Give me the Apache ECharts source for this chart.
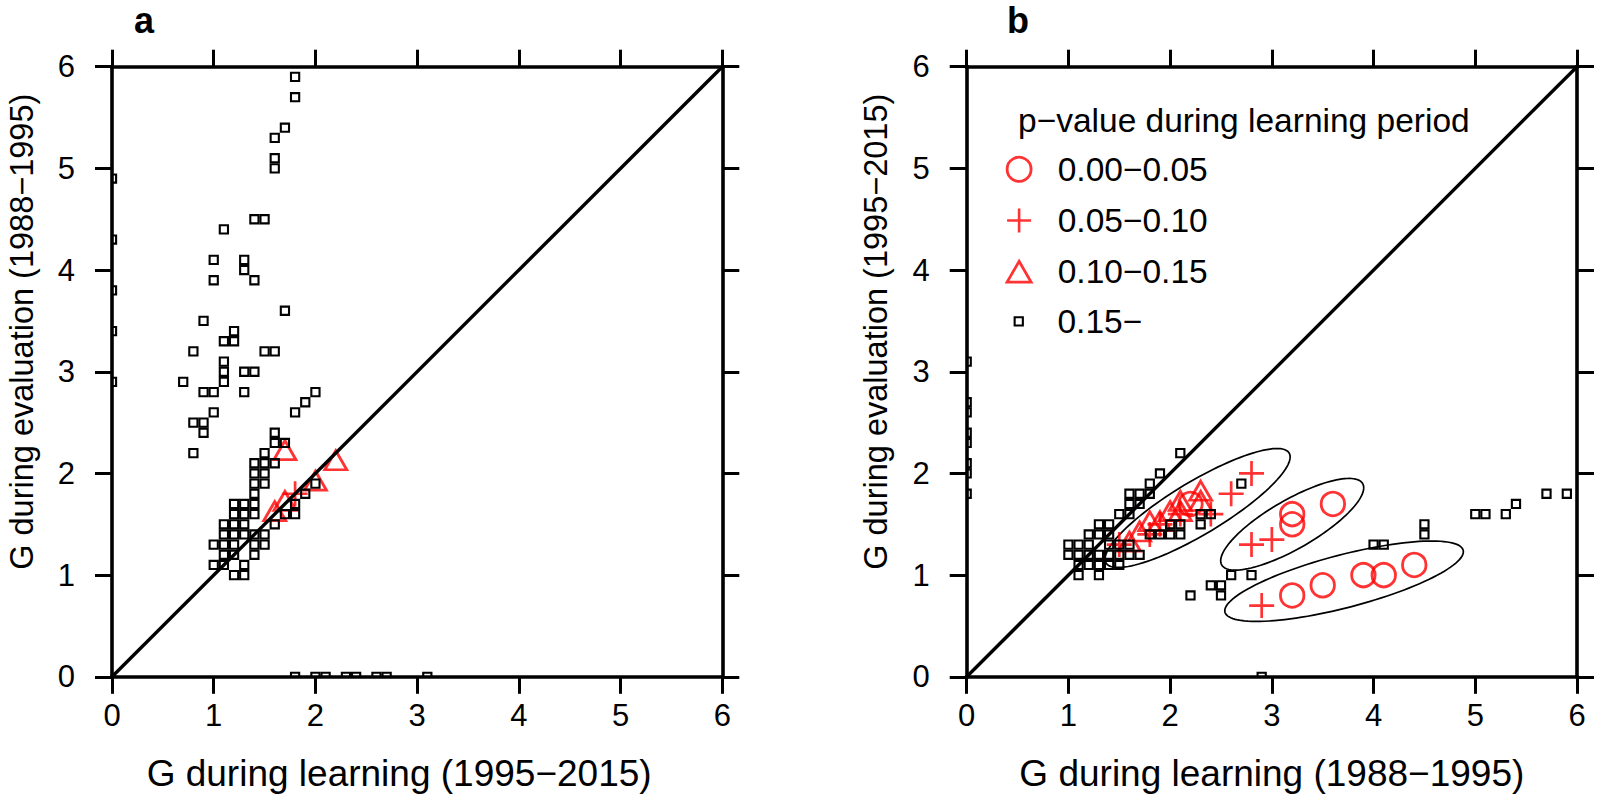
<!DOCTYPE html>
<html><head><meta charset="utf-8">
<script src="https://cdn.jsdelivr.net/npm/echarts@6/dist/echarts.min.js"></script>
<style>html,body{margin:0;padding:0;background:#fff}#c{width:1598px;height:799px}</style>
</head><body><div id="c"></div>
<script>
// ---------------- data ----------------
const axisTicks = [0, 1, 2, 3, 4, 5, 6];
const diagonal = [[0, 0], [6, 6]];

// panel a
const aSquares = [
 [0,4.9],[0,4.3],[0,3.8],[0,3.4],[0,2.9],
 [1.8,0],[2.0,0],[2.1,0],[2.3,0],[2.4,0],[2.6,0],[2.7,0],[3.1,0],
 [1.8,5.9],[1.8,5.7],[1.7,5.4],[1.6,5.3],[1.6,5.1],[1.6,5.0],[1.4,4.5],[1.5,4.5],[1.1,4.4],[1.0,4.1],[1.3,4.1],[1.3,4.0],[1.0,3.9],[1.4,3.9],[1.7,3.6],[0.9,3.5],[1.2,3.4],[1.1,3.3],[1.2,3.3],[0.8,3.2],[1.5,3.2],[1.6,3.2],[1.1,3.1],[1.1,3.0],[1.3,3.0],[1.4,3.0],[0.7,2.9],[1.1,2.9],[0.9,2.8],[1.0,2.8],[1.3,2.8],[2.0,2.8],[1.9,2.7],[1.8,2.6],[1.0,2.6],[0.8,2.5],[0.9,2.5],[0.9,2.4],[0.8,2.2],
 [1.6,2.4],[1.6,2.3],[1.7,2.3],[1.5,2.2],[1.4,2.1],[1.5,2.1],[1.6,2.1],[1.4,2.0],[1.5,2.0],[1.4,1.9],[1.5,1.9],[1.4,1.8],
 [1.2,1.7],[1.3,1.7],[1.4,1.7],[1.2,1.6],[1.3,1.6],[1.4,1.6],[1.1,1.5],[1.2,1.5],[1.3,1.5],[1.1,1.4],[1.2,1.4],[1.3,1.4],[1.4,1.4],[1.5,1.4],[1.0,1.3],[1.1,1.3],[1.2,1.3],[1.4,1.3],[1.5,1.3],[1.1,1.2],[1.2,1.2],[1.4,1.2],[1.0,1.1],[1.1,1.1],[1.3,1.1],[1.2,1.0],[1.3,1.0],
 [1.6,1.5],[1.7,1.6],[1.8,1.6],[1.8,1.7],[1.9,1.8],[2.0,1.9]
];
const aTriangles = [[1.7,2.2],[2.2,2.1],[2.0,1.9],[1.7,1.7],[1.6,1.6]];
const aPluses = [[1.8,1.8]];
const aCircles = [];

// panel b
const bSquares = [
 [0,3.1],[0,2.7],[0,2.6],[0,2.4],[0,2.3],[0,2.1],[0,2.0],[0,1.8],
 [2.1,2.2],[1.9,2.0],[1.8,1.9],[1.6,1.8],[1.7,1.8],[1.8,1.8],[1.6,1.7],[1.7,1.7],[1.5,1.6],[1.6,1.6],[1.3,1.5],[1.4,1.5],[1.2,1.4],[1.3,1.4],[1.4,1.4],
 [1.0,1.3],[1.1,1.3],[1.2,1.3],[1.4,1.3],[1.5,1.3],[1.6,1.3],
 [1.0,1.2],[1.1,1.2],[1.2,1.2],[1.3,1.2],[1.4,1.2],[1.5,1.2],[1.6,1.2],[1.7,1.2],
 [1.1,1.1],[1.2,1.1],[1.3,1.1],[1.4,1.1],[1.5,1.1],
 [1.1,1.0],[1.3,1.0],
 [1.8,1.4],[1.9,1.4],[2.0,1.4],[2.1,1.4],[2.0,1.5],[2.1,1.5],[2.3,1.5],[2.3,1.6],[2.4,1.6],[2.7,1.9],
 [2.6,1.0],[2.8,1.0],[2.4,0.9],[2.5,0.9],[2.5,0.8],[2.2,0.8],[2.9,0],
 [4.0,1.3],[4.1,1.3],[4.5,1.4],[4.5,1.5],[5.0,1.6],[5.1,1.6],[5.3,1.6],[5.4,1.7],[5.7,1.8],[5.9,1.8]
];
const bCircles = [[2.2,1.7],[3.2,1.6],[3.2,1.5],[3.6,1.7],[3.2,0.8],[3.5,0.9],[3.9,1.0],[4.1,1.0],[4.4,1.1]];
const bPluses = [[2.8,2.0],[2.6,1.8],[2.4,1.6],[2.8,1.3],[3.0,1.35],[2.9,0.7],[1.5,1.3],[1.8,1.4],[1.9,1.5],[2.1,1.6]];
const bTriangles = [[1.6,1.3],[1.7,1.4],[1.8,1.5],[1.9,1.5],[2.0,1.6],[2.1,1.6],[2.1,1.7],[2.3,1.7],[2.3,1.8]];

// ellipses: [centre x, centre y, semi-major, semi-minor, angle deg]
const bEllipses = [[2.27,1.66,1.05,0.26,31],[3.20,1.50,0.80,0.24,30],[3.71,0.94,1.21,0.26,14.6]];
const bEllipseLabels = [[3.35,2.35,'C'],[4.14,2.04,'B'],[5.04,1.13,'A']];

const legendTitle = 'p\u2212value during learning period';
const legendNames = ['0.00\u22120.05','0.05\u22120.10','0.10\u22120.15','0.15\u2212'];
const axisNames = {
  aX: 'G during learning (1995\u22122015)', aY: 'G during evaluation (1988\u22121995)',
  bX: 'G during learning (1988\u22121995)', bY: 'G during evaluation (1995\u22122015)'
};
const panelLabels = ['a', 'b'];

// ---------------- style ----------------
const FONT = '"Liberation Sans", Arial, Helvetica, sans-serif';
const RED = '#ff0000';
const PLUS = 'path://M-1.35,-12.5L1.35,-12.5L1.35,-1.35L12.5,-1.35L12.5,1.35L1.35,1.35L1.35,12.5L-1.35,12.5L-1.35,1.35L-12.5,1.35L-12.5,-1.35L-1.35,-1.35Z';
const TRI = 'path://M0,-10L11.55,10L-11.55,10Z';
const SQ = 8.2;
const LEG_FS = 33.5;

const circleStyle = {color: 'transparent', borderColor: RED, borderWidth: 2.8};
const plusStyle = {color: RED, borderWidth: 0};
const triStyle = {color: 'transparent', borderColor: RED, borderWidth: 2.8};
const sqStyle = {color: 'transparent', borderColor: '#000', borderWidth: 2.1};

function xAxis(grid, pos, name, shift) {
  const bottom = pos === 'bottom';
  return {
    type: 'value', gridIndex: grid, position: pos, min: 0, max: 6, interval: 1, z: 10,
    axisLine: {show: true, onZero: false, lineStyle: {color: '#000', width: 3.6, cap: 'square'}},
    axisTick: {show: true, inside: false, length: 17, lineStyle: {color: '#000', width: 3}},
    axisLabel: {show: bottom, color: '#000', fontSize: 31, fontFamily: FONT, margin: 23,
      formatter: v => axisTicks.indexOf(v) >= 0 ? String(v) : ''},
    splitLine: {show: false},
    name: bottom ? name : '', nameLocation: 'middle', nameGap: 78,
    nameTextStyle: {color: '#000', fontSize: 37, fontFamily: FONT, lineHeight: 37, padding: [0, shift || 0, 0, 0]}
  };
}
function yAxis(grid, pos, name) {
  const left = pos === 'left';
  return {
    type: 'value', gridIndex: grid, position: pos, min: 0, max: 6, interval: 1, z: 10,
    axisLine: {show: true, onZero: false, lineStyle: {color: '#000', width: 3.6, cap: 'square'}},
    axisTick: {show: true, inside: false, length: 17, lineStyle: {color: '#000', width: 3}},
    axisLabel: {show: left, color: '#000', fontSize: 31, fontFamily: FONT, margin: 37,
      formatter: v => axisTicks.indexOf(v) >= 0 ? String(v) : ''},
    splitLine: {show: false},
    name: left ? name : '', nameLocation: 'middle', nameGap: 74,
    nameTextStyle: {color: '#000', fontSize: 32.5, fontFamily: FONT, lineHeight: 33, padding: [0, 0, 0, 80]}
  };
}

function pts(name, data, xi, symbol, size, style, z, extra) {
  return Object.assign({
    type: 'scatter', name: name, xAxisIndex: xi, yAxisIndex: xi, data: data,
    symbol: symbol, symbolSize: size, itemStyle: style, z: z, clip: false, silent: true,
    emphasis: {disabled: true}
  }, extra || {});
}
function squares(name, data, xi) {
  return {
    type: 'custom', name: name, xAxisIndex: xi, yAxisIndex: xi, data: data, z: 4, clip: true, silent: true,
    renderItem: function (params, api) {
      const c = api.coord([api.value(0), api.value(1)]);
      return {type: 'rect', shape: {x: c[0] - SQ / 2, y: c[1] - SQ / 2, width: SQ, height: SQ},
        style: {fill: 'none', stroke: '#000', lineWidth: sqStyle.borderWidth}};
    }
  };
}

const series = [];
[0, 1].forEach(function (p) {
  const sq = p === 0 ? aSquares : bSquares;
  const ci = p === 0 ? aCircles : bCircles;
  const pl = p === 0 ? aPluses : bPluses;
  const tr = p === 0 ? aTriangles : bTriangles;
  series.push(pts(legendNames[0], ci, p, 'circle', 23.5, circleStyle, 3));
  series.push(pts(legendNames[1], pl, p, PLUS, 25, plusStyle, 3));
  series.push(pts(legendNames[2], tr, p, TRI, [22, 19], triStyle, 3, {symbolOffset: [0, -3]}));
  series.push(squares(legendNames[3], sq, p));
  series.push({
    type: 'line', xAxisIndex: p, yAxisIndex: p, data: diagonal, symbol: 'none', silent: true,
    lineStyle: {color: '#000', width: 3.4}, z: 5, clip: true
  });
});
series.push({
  type: 'custom', xAxisIndex: 1, yAxisIndex: 1, data: bEllipses, silent: true, z: 2,
  renderItem: function (params, api) {
    const cx = api.value(0), cy = api.value(1), a = api.value(2), b = api.value(3);
    const t0 = api.value(4) * Math.PI / 180;
    const P = [];
    for (let i = 0; i < 120; i++) {
      const t = i / 120 * 2 * Math.PI;
      P.push(api.coord([
        cx + a * Math.cos(t0) * Math.cos(t) - b * Math.sin(t0) * Math.sin(t),
        cy + a * Math.sin(t0) * Math.cos(t) + b * Math.cos(t0) * Math.sin(t)
      ]));
    }
    return {type: 'polygon', shape: {points: P}, style: {fill: 'none', stroke: '#000', lineWidth: 1.7}};
  }
});
series.push({
  type: 'scatter', xAxisIndex: 1, yAxisIndex: 1, data: bEllipseLabels, symbolSize: 1, silent: true, z: 6,
  itemStyle: {opacity: 0},
  label: {show: true, position: 'inside', formatter: p => p.value[2], color: '#000', fontSize: 38, fontFamily: FONT}
});

const option = {
  animation: false,
  backgroundColor: '#fff',
  textStyle: {fontFamily: FONT},
  grid: [
    {left: 112, top: 66.7, width: 610.3, height: 610.1, outerBoundsMode: 'none', containLabel: false},
    {left: 966.7, top: 66.7, width: 610.3, height: 610.1, outerBoundsMode: 'none', containLabel: false}
  ],
  xAxis: [xAxis(0, 'bottom', axisNames.aX, 36), xAxis(1, 'bottom', axisNames.bX, 0), xAxis(0, 'top', ''), xAxis(1, 'top', '')],
  yAxis: [yAxis(0, 'left', axisNames.aY), yAxis(1, 'left', axisNames.bY), yAxis(0, 'right', ''), yAxis(1, 'right', '')],
  title: [
    {text: panelLabels[0], left: 134, top: 2, padding: 0, textStyle: {fontSize: 36, fontWeight: 'bold', color: '#000', fontFamily: FONT, lineHeight: 36}},
    {text: panelLabels[1], left: 1007, top: 2, padding: 0, textStyle: {fontSize: 36, fontWeight: 'bold', color: '#000', fontFamily: FONT, lineHeight: 36}},
    {text: legendTitle, left: 1018, top: 103, padding: 0, textStyle: {fontSize: LEG_FS, fontWeight: 'normal', color: '#000', fontFamily: FONT, lineHeight: 34}}
  ],
  legend: [
    {
      orient: 'vertical', left: 1005.7, top: 152.3, itemWidth: 24, itemHeight: 24, itemGap: 17.2,
      selectedMode: false, padding: 0, symbolKeepAspect: true,
      data: [
        {name: legendNames[0], icon: 'circle', itemStyle: circleStyle},
        {name: legendNames[1], icon: PLUS, itemStyle: plusStyle},
        {name: legendNames[2], icon: TRI, itemStyle: triStyle}
      ],
      textStyle: {fontSize: LEG_FS, lineHeight: 24, color: '#000', fontFamily: FONT, padding: [0, 0, 0, 21.6]}
    },
    {
      orient: 'vertical', left: 1013.6, top: 304.4, itemWidth: SQ, itemHeight: SQ,
      selectedMode: false, padding: 0,
      data: [{name: legendNames[3], icon: 'rect', itemStyle: sqStyle}],
      textStyle: {fontSize: LEG_FS, lineHeight: 9, color: '#000', fontFamily: FONT, padding: [0, 0, 0, 29.6]}
    }
  ],
  series: series
};
const chart = echarts.init(document.getElementById('c'), null, {renderer: 'svg'});
chart.setOption(option);
</script></body></html>
